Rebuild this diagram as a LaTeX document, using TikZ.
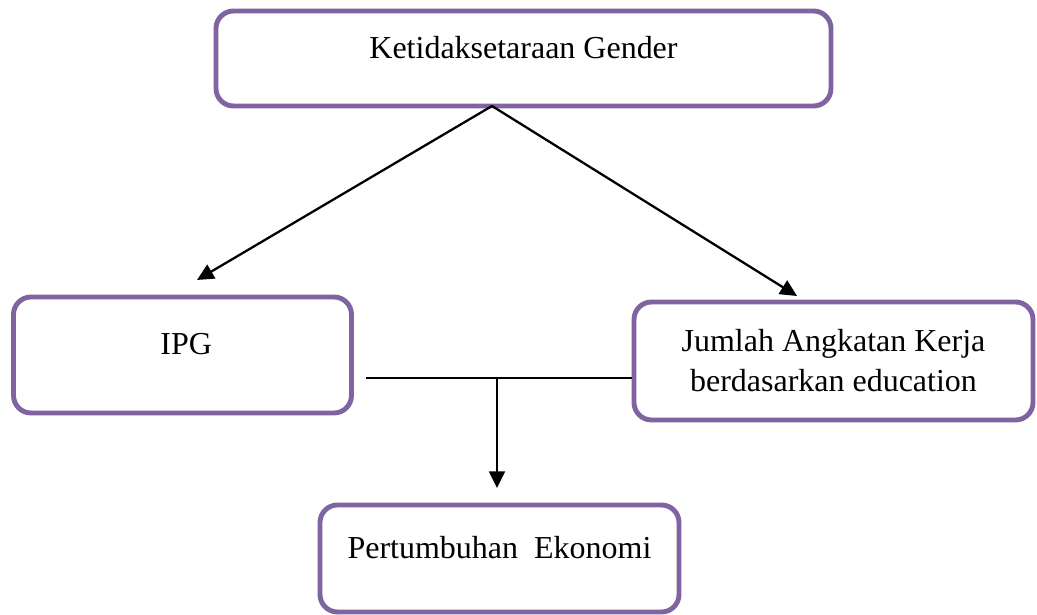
\documentclass[tikz,border=0pt]{standalone}
\usepackage{fontspec}
\setmainfont{Liberation Serif}
\usetikzlibrary{arrows.meta}

\definecolor{boxpurple}{HTML}{8064A2}

\tikzset{
    box/.style={draw=boxpurple, line width=2.8pt, rounded corners=0.35cm,
        align=center, font=\fontsize{18.2}{22.7}\selectfont},
    oneline/.style={text height=12pt, text depth=12pt},
    arrow/.style={-{Triangle[length=9.5pt,width=9pt]}, line width=1.3pt}
}

\begin{document}
\begin{tikzpicture}
    \useasboundingbox (0,0) rectangle (20.74,12.3);

    \node[box, oneline, minimum width=12.3cm, minimum height=1.9cm] (gender) at (10.47,11.13) {Ketidaksetaraan Gender};
    \node[box, oneline, minimum width=6.76cm, minimum height=2.32cm] (ipg) at (3.65,5.2) {\hspace{0.15cm}IPG};
    \node[box, minimum width=7.98cm, minimum height=2.36cm] (jak) at (16.67,5.08) {Jumlah Angkatan Kerja\\berdasarkan education};
    \node[box, oneline, minimum width=7.18cm, minimum height=2.14cm] (ekonomi) at (9.99,1.13) {Pertumbuhan\ \ Ekonomi};

    \coordinate (apex) at (9.84,10.18);
    \coordinate (ipgin) at (3.94,6.7);
    \coordinate (jakin) at (15.94,6.38);
    \coordinate (ipgout) at (7.32,4.74);
    \coordinate (join) at (9.94,4.74);
    \coordinate (ekoin) at (9.94,2.54);

    \draw[arrow] (apex) -- (ipgin);
    \draw[arrow] (apex) -- (jakin);

	\draw[line width=0.9pt] (ipgout) -- (ipgout -| jak.west);
	\draw[arrow] (join) -- (ekoin);
\end{tikzpicture}
\end{document}
